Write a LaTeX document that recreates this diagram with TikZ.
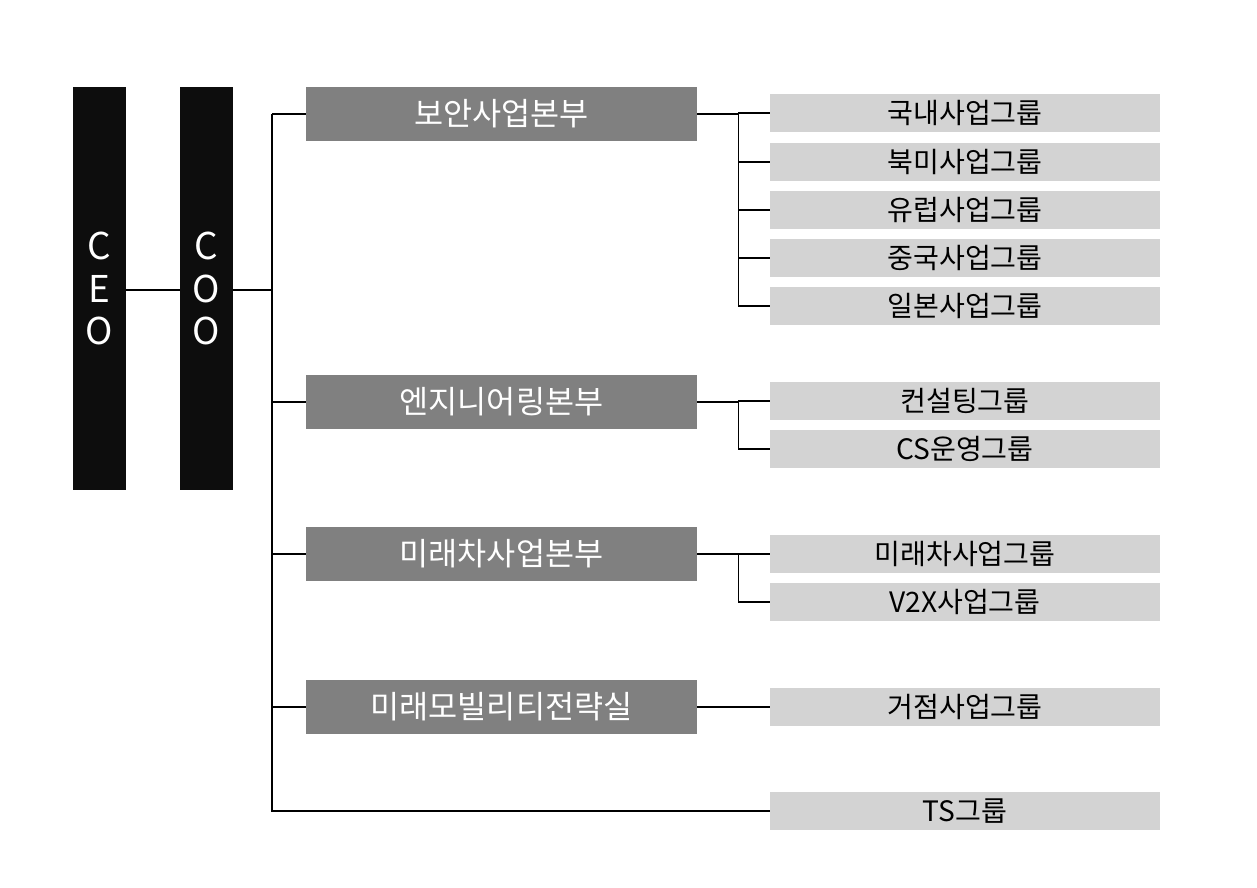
\documentclass[tikz,border=0pt]{standalone}
\usepackage{fontspec}
\setmainfont{Noto Sans CJK KR}
\usetikzlibrary{calc}
\definecolor{divgray}{HTML}{808080}
\definecolor{grpgray}{HTML}{D3D3D3}
\definecolor{topblack}{HTML}{0D0D0D}
\begin{document}
\begin{tikzpicture}[x=0.02cm,y=-0.02cm]
\tikzstyle{head}=[fill=topblack,text=white,inner sep=0pt,minimum width=1.06cm,minimum height=8.06cm,font=\fontsize{21}{24}\selectfont,align=center]
\tikzstyle{div}=[fill=divgray,text=white,inner sep=0pt,minimum width=7.82cm,minimum height=1.08cm,font=\fontsize{18}{20}\selectfont]
\tikzstyle{grp}=[fill=grpgray,text=black,inner sep=0pt,minimum width=7.8cm,minimum height=0.76cm,font=\fontsize{16}{18}\selectfont]
\tikzstyle{link}=[draw=black,line width=0.8pt]
\useasboundingbox (0,0) rectangle (1257,887);
% top
\node (CEO) [head] at (99.5,288.5) {C\\E\\O};
\node (COO) [head] at (206.5,288.5) {C\\O\\O};
% divisions
\node (SEC) [div] at (501.5,114) {보안사업본부};
\node (ENG) [div] at (501.5,402) {엔지니어링본부};
\node (FUT) [div] at (501.5,554) {미래차사업본부};
\node (MOB) [div] at (501.5,707) {미래모빌리티전략실};
% groups
\node (G1) [grp] at (965,113) {국내사업그룹};
\node (G2) [grp] at (965,162) {북미사업그룹};
\node (G3) [grp] at (965,210) {유럽사업그룹};
\node (G4) [grp] at (965,258) {중국사업그룹};
\node (G5) [grp] at (965,306) {일본사업그룹};
\node (G6) [grp] at (965,401) {컨설팅그룹};
\node (G7) [grp] at (965,449) {CS운영그룹};
\node (G8) [grp] at (965,554) {미래차사업그룹};
\node (G9) [grp] at (965,602) {V2X사업그룹};
\node (G10) [grp] at (965,707) {거점사업그룹};
\node (TS) [grp] at (965,811) {TS그룹};
\coordinate (trunk) at (272,290);
% connectors
\draw[link] (CEO.east |- 0,290) -- (COO.west |- 0,290);
\draw[link] (COO.east |- trunk) -- (trunk);
\draw[link] (trunk |- SEC.west) -- (trunk |- TS.west) -- (TS.west);
\foreach \d in {SEC,ENG,FUT,MOB}
  \draw[link] (trunk |- \d.west) -- (\d.west);
\draw[link] (SEC.east) -- ($(SEC.east)+(41,0)$) |- (G5.west);
\foreach \g in {G1,G2,G3,G4} \draw[link] ($(SEC.east)+(41,0)$) |- (\g.west);
\draw[link] (ENG.east) -- ($(ENG.east)+(41,0)$) |- (G7.west);
\draw[link] ($(ENG.east)+(41,0)$) |- (G6.west);
\draw[link] (FUT.east) -- ($(FUT.east)+(41,0)$) |- (G9.west);
\draw[link] ($(FUT.east)+(41,0)$) |- (G8.west);
\draw[link] (MOB.east) -- (G10.west);
\end{tikzpicture}
\end{document}
